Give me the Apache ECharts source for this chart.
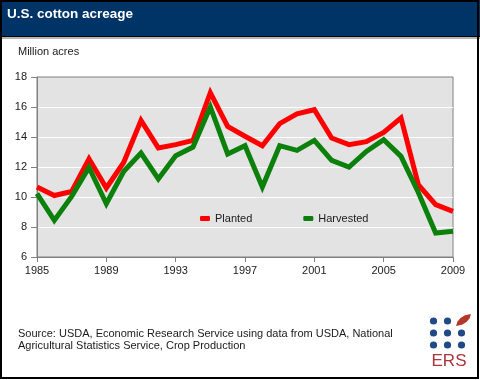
<!DOCTYPE html>
<html>
<head>
<meta charset="utf-8">
<script src="https://cdn.jsdelivr.net/npm/echarts@6/dist/echarts.min.js"></script>
<style>html,body{margin:0;padding:0;background:#fff}#c{width:480px;height:380px}</style>
</head>
<body>
<div id="c"></div>
<script>
var years = ['1985','1986','1987','1988','1989','1990','1991','1992','1993','1994','1995','1996','1997','1998','1999','2000','2001','2002','2003','2004','2005','2006','2007','2008','2009'];
var planted = [10.67, 10.1, 10.37, 12.55, 10.6, 12.3, 15.1, 13.27, 13.49, 13.77, 16.95, 14.7, 14.05, 13.42, 14.89, 15.55, 15.82, 13.93, 13.49, 13.69, 14.31, 15.27, 10.82, 9.49, 9.04];
var harvested = [10.22, 8.44, 10.04, 11.97, 9.55, 11.7, 12.93, 11.2, 12.75, 13.33, 16.0, 12.87, 13.42, 10.67, 13.42, 13.11, 13.77, 12.44, 12.0, 13.04, 13.82, 12.71, 10.3, 7.6, 7.71];
var seriesNames = ['Planted', 'Harvested'];
var titleText = 'U.S. cotton acreage';
var unitText = 'Million acres';
var sourceLines = ['Source: USDA, Economic Research Service using data from USDA, National', 'Agricultural Statistics Service, Crop Production'];

var FONT = '"Liberation Sans", Arial, sans-serif';
var chart = echarts.init(document.getElementById('c'), null, {renderer: 'canvas'});
var navy = '#1f4a86';
chart.setOption({
  animation: false,
  title: {
    text: titleText, left: 7, top: 7, padding: 0,
    textStyle: {color: '#fff', fontSize: 13.5, fontWeight: 'bold', fontFamily: FONT}
  },
  grid: {
    left: 37, right: 27, top: 77, bottom: 123,
    show: true, backgroundColor: '#e3e3e3', borderColor: '#808080', borderWidth: 1
  },
  legend: {
    data: seriesNames, left: 200, top: 213, padding: 0, icon: 'roundRect',
    itemWidth: 10, itemHeight: 5, itemGap: 51,
    textStyle: {fontSize: 11, color: '#1a1a1a', fontFamily: FONT}
  },
  xAxis: {
    type: 'category', data: years, boundaryGap: false,
    axisLine: {lineStyle: {color: '#808080', width: 1}},
    axisTick: {interval: 3, length: 5, lineStyle: {color: '#808080'}},
    axisLabel: {interval: 3, margin: 8, fontSize: 11, color: '#1a1a1a', fontFamily: FONT},
    splitLine: {show: false}
  },
  yAxis: {
    type: 'value', min: 6, max: 18, interval: 2,
    axisLine: {show: true, lineStyle: {color: '#808080', width: 1}},
    axisTick: {show: true, length: 6, lineStyle: {color: '#808080'}},
    axisLabel: {margin: 10, fontSize: 11, color: '#1a1a1a', fontFamily: FONT},
    splitLine: {show: true, showMinLine: false, showMaxLine: false, lineStyle: {color: '#ffffff', width: 1}}
  },
  series: [
    {name: seriesNames[0], type: 'line', data: planted, symbol: 'none', color: '#ff0000',
     lineStyle: {width: 5, color: '#ff0000', join: 'miter'}},
    {name: seriesNames[1], type: 'line', data: harvested, symbol: 'none', color: '#0b800b',
     lineStyle: {width: 5, color: '#0b800b', join: 'miter'}}
  ],
  graphic: [
    {type: 'rect', shape: {x: 0, y: 0, width: 480, height: 36}, style: {fill: '#003366'}, z: -10},
    {type: 'rect', shape: {x: 0, y: 36, width: 480, height: 1}, style: {fill: '#000'}, z: -10},
    {type: 'rect', shape: {x: 0, y: 37, width: 480, height: 2}, style: {fill: '#b5b5b5'}, z: -10},
    {type: 'rect', shape: {x: 1, y: 1, width: 477, height: 377}, style: {fill: null, stroke: '#000', lineWidth: 2}, z: 10},
    {type: 'text', x: 18, y: 52, style: {text: unitText, fill: '#1a1a1a', font: '11px ' + FONT, textVerticalAlign: 'middle'}},
    {type: 'text', x: 18, y: 334, style: {text: sourceLines[0], fill: '#1a1a1a', font: '11px ' + FONT, textVerticalAlign: 'middle'}},
    {type: 'text', x: 18, y: 345.5, style: {text: sourceLines[1], fill: '#1a1a1a', font: '11px ' + FONT, textVerticalAlign: 'middle'}},
    {type: 'circle', shape: {cx: 433.5, cy: 321, r: 3.6}, style: {fill: navy}},
    {type: 'circle', shape: {cx: 447.5, cy: 321, r: 3.6}, style: {fill: navy}},
    {type: 'circle', shape: {cx: 433.5, cy: 333, r: 3.6}, style: {fill: navy}},
    {type: 'circle', shape: {cx: 447.5, cy: 333, r: 3.6}, style: {fill: navy}},
    {type: 'circle', shape: {cx: 461.5, cy: 333, r: 3.6}, style: {fill: navy}},
    {type: 'circle', shape: {cx: 433.5, cy: 345, r: 3.6}, style: {fill: navy}},
    {type: 'circle', shape: {cx: 447.5, cy: 345, r: 3.6}, style: {fill: navy}},
    {type: 'circle', shape: {cx: 461.5, cy: 345, r: 3.6}, style: {fill: navy}},
    {type: 'polygon', shape: {points: [[456,326],[457.5,321.5],[460.5,318],[465,315.3],[471,314],[469.5,318.5],[466.5,322],[462,324.8]]}, style: {fill: '#b3372b'}},
    {type: 'text', x: 449, y: 361.5, style: {text: 'ERS', fill: '#a8363a', font: '17px ' + FONT, textAlign: 'center', textVerticalAlign: 'middle'}}
  ]
});
</script>
</body>
</html>
